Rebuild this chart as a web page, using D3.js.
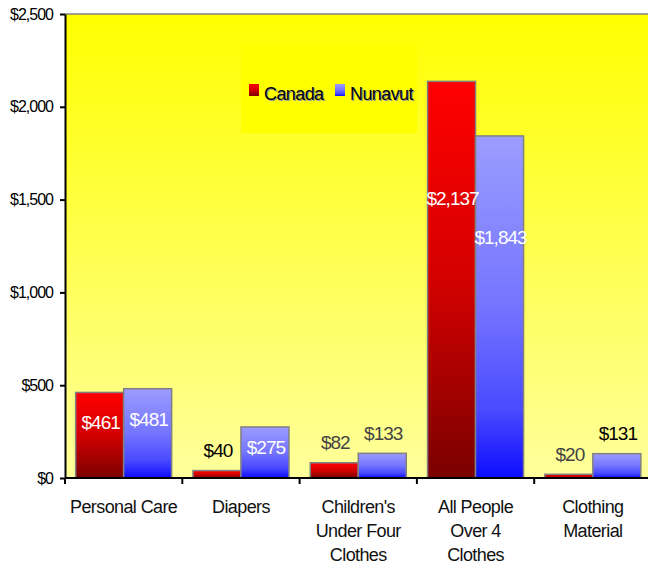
<!DOCTYPE html>
<html>
<head>
<meta charset="utf-8">
<script src="https://cdn.jsdelivr.net/npm/d3@7"></script>
<style>
  body { margin: 0; background: #fff; }
  text { font-family: "Liberation Sans", Arial, sans-serif; }
</style>
</head>
<body>
<svg id="chart" width="648" height="565"></svg>
<script>
// chart data
var categories = ["Personal Care", "Diapers", "Children's\nUnder Four\nClothes", "All People\nOver 4\nClothes", "Clothing\nMaterial"];
var series = ["Canada", "Nunavut"];
var canada = [461, 40, 82, 2137, 20];
var nunavut = [481, 275, 133, 1843, 131];
var yTicks = [0, 500, 1000, 1500, 2000, 2500];

var margin = { top: 14, left: 65, bottom: 478, right: 651.5 };

var svg = d3.select("#chart");
var defs = svg.append("defs");

// gradients
var bg = defs.append("linearGradient").attr("id", "bg")
    .attr("x1", 0).attr("y1", 0).attr("x2", 0).attr("y2", 1);
bg.append("stop").attr("offset", 0).attr("stop-color", "#ffff00");
bg.append("stop").attr("offset", 1).attr("stop-color", "#ffff9c");

function grad(id, stops) {
    var g = defs.append("linearGradient").attr("id", id)
        .attr("x1", 0).attr("y1", 0).attr("x2", 0).attr("y2", 1);
    stops.forEach(function (s) {
        g.append("stop").attr("offset", s[0]).attr("stop-color", s[1]);
    });
}
grad("g-Canada", [[0, "#ff0000"], [0.5, "#d40000"], [1, "#7a0000"]]);
grad("g-Nunavut", [[0, "#9c9cff"], [0.5, "#7474ff"], [0.8, "#4a4aff"], [1, "#0c0cff"]]);

// scales
var x0 = d3.scaleBand().domain(categories).range([margin.left, margin.right]);
var x1 = d3.scaleBand().domain(series).range([0, x0.bandwidth()])
    .paddingInner(0).paddingOuter(0.222);
var y = d3.scaleLinear().domain([0, 2500]).range([margin.bottom, margin.top]);

// plot background
svg.append("rect")
    .attr("x", margin.left).attr("y", margin.top)
    .attr("width", margin.right - margin.left).attr("height", margin.bottom - margin.top)
    .attr("fill", "url(#bg)");
svg.append("line")
    .attr("x1", margin.left).attr("x2", 648)
    .attr("y1", margin.top).attr("y2", margin.top)
    .attr("stroke", "#808080").attr("stroke-width", 1.5);

// legend
var legend = svg.append("g");
legend.append("rect")
    .attr("x", 241).attr("y", 44).attr("width", 176).attr("height", 89)
    .attr("fill", "#ffff00");
var legX = [249, 335];
series.forEach(function (s, i) {
    legend.append("rect")
        .attr("x", legX[i]).attr("y", 84).attr("width", 10).attr("height", 12)
        .attr("fill", "url(#g-" + s + ")");
    legend.append("text")
        .attr("x", legX[i] + 15).attr("y", 100)
        .attr("fill", "#999")
        .attr("dx", 1).attr("dy", 1)
        .style("font-size", "18px").style("letter-spacing", "-0.6px")
        .text(s);
    legend.append("text")
        .attr("x", legX[i] + 15).attr("y", 100)
        .attr("fill", "#000")
        .style("font-size", "18px").style("letter-spacing", "-0.6px")
        .text(s);
});

// bars
var rows = categories.map(function (c, i) {
    return { cat: c, vals: [{ s: "Canada", v: canada[i] }, { s: "Nunavut", v: nunavut[i] }] };
});

var groups = svg.selectAll("g.cat")
    .data(rows)
    .enter().append("g")
    .attr("class", "cat")
    .attr("transform", function (d) { return "translate(" + x0(d.cat) + ",0)"; });

groups.selectAll("rect")
    .data(function (d) { return d.vals; })
    .enter().append("rect")
    .attr("x", function (d) { return x1(d.s); })
    .attr("y", function (d) { return y(d.v); })
    .attr("width", x1.bandwidth())
    .attr("height", function (d) { return y(0) - y(d.v); })
    .attr("fill", function (d) { return "url(#g-" + d.s + ")"; })
    .attr("stroke", "#808080")
    .attr("stroke-width", 1.5);

// value labels: white inside tall bars, dark above short ones
var darkLabel = { 40: "#000", 131: "#000" };
var fmt = d3.format(",");
groups.selectAll("text.val")
    .data(function (d) { return d.vals; })
    .enter().append("text")
    .attr("class", "val")
    .attr("x", function (d) { return x1(d.s) + x1.bandwidth() / 2 + 1; })
    .attr("y", function (d) { return d.v > 200 ? y(d.v * 0.72) + 6 : y(d.v) - 20; })
    .attr("dy", "0.35em")
    .attr("text-anchor", "middle")
    .attr("fill", function (d) { return d.v > 200 ? "#fff" : (darkLabel[d.v] || "#444"); })
    .style("font-size", "19px")
    .style("letter-spacing", "-1px")
    .text(function (d) { return "$" + fmt(d.v); });

// y axis
var yAxis = svg.append("g")
    .attr("transform", "translate(" + margin.left + ",0)")
    .call(d3.axisLeft(y).tickValues(yTicks).tickSize(5).tickSizeOuter(0).tickPadding(7)
        .tickFormat(function (d) { return "$" + fmt(d); }));
yAxis.select(".domain").attr("stroke", "#000").attr("stroke-width", 2);
yAxis.selectAll(".tick line").attr("stroke", "#000").attr("stroke-width", 2);
yAxis.selectAll(".tick text")
    .attr("fill", "#000")
    .style("font-size", "16px")
    .style("letter-spacing", "-1px")
    .style("font-family", "'Liberation Sans', Arial, sans-serif");

// x axis
var xAxis = svg.append("g");
xAxis.append("line")
    .attr("x1", margin.left).attr("x2", 648)
    .attr("y1", y(0)).attr("y2", y(0))
    .attr("stroke", "#000").attr("stroke-width", 2);
xAxis.selectAll("line.tick")
    .data(categories)
    .enter().append("line")
    .attr("class", "tick")
    .attr("x1", function (d) { return x0(d); })
    .attr("x2", function (d) { return x0(d); })
    .attr("y1", y(0)).attr("y2", y(0) + 6)
    .attr("stroke", "#000").attr("stroke-width", 2);

var catLabels = xAxis.selectAll("text.cat")
    .data(categories)
    .enter().append("text")
    .attr("class", "cat")
    .attr("x", function (d) { return x0(d) + x0.bandwidth() / 2; })
    .attr("y", y(0) + 35)
    .attr("text-anchor", "middle")
    .attr("fill", "#111")
    .style("font-size", "18px")
    .style("letter-spacing", "-0.6px");
catLabels.each(function (d) {
    var t = d3.select(this);
    d.split("\n").forEach(function (line, i) {
        t.append("tspan")
            .attr("x", x0(d) + x0.bandwidth() / 2)
            .attr("dy", i === 0 ? 0 : 24)
            .text(line);
    });
});
</script>
</body>
</html>
